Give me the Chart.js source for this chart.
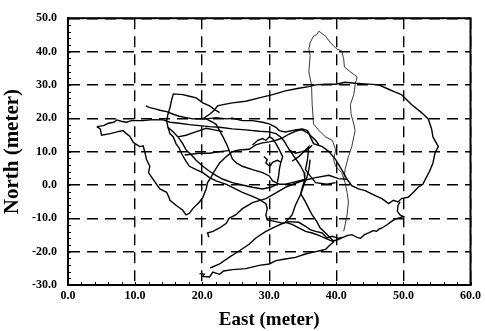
<!DOCTYPE html>
<html>
<head>
<meta charset="utf-8">
<script src="https://cdn.jsdelivr.net/npm/chart.js@4"></script>
<style>
    html, body { margin: 0; padding: 0; background: #fff; }
</style>
</head>
<body>
<canvas id="myChart" width="485" height="331"></canvas>
<script>
// tracks, [east, north] in meters
const westLoop = [
    [4.3, 17.5], [4.8, 16.8], [5.0, 14.9], [6.3, 15.4], [7.3, 15.9], [8.2, 16.3], [8.7, 15.4],
    [9.2, 14.6], [9.7, 12.9], [10.0, 12.4], [10.7, 11.5], [11.2, 11.7], [11.5, 9.5], [11.7, 7.6],
    [12.2, 5.6], [12.0, 3.7], [12.7, 1.7], [13.2, 0.2], [13.7, -1.2], [14.7, -2.2], [15.0, -3.5],
    [15.2, -4.6], [16.1, -6.1], [17.1, -7.6], [17.6, -9.0], [18.1, -8.5], [18.6, -7.1], [19.6, -5.1],
    [20.1, -3.7], [20.6, -1.2], [20.8, 0.7], [21.3, 2.2], [21.8, 4.1], [22.6, 6.6], [23.6, 8.5],
    [24.5, 10.0], [25.5, 10.5], [27.0, 10.7], [28.0, 12.0], [29.0, 12.6], [30.0, 12.9], [31.0, 13.4],
    [32.0, 14.1], [32.9, 15.2], [33.9, 16.1], [34.9, 16.7]
];
const upperWest = [
    [4.3, 17.5], [5.3, 17.8], [6.0, 18.5], [6.8, 18.8], [7.3, 19.5], [7.9, 19.1], [8.7, 18.8],
    [9.5, 19.3], [11.2, 19.3], [12.7, 19.6], [14.2, 19.5], [15.2, 18.8], [16.6, 18.5], [18.1, 18.1],
    [19.6, 17.8], [21.1, 17.5], [22.6, 17.3], [24.5, 16.8], [26.5, 16.5], [28.5, 16.1], [30.0, 15.9],
    [31.0, 15.4], [31.7, 14.4], [32.2, 13.2], [32.7, 11.5], [33.2, 10.0], [33.7, 8.5], [34.2, 7.1],
    [34.7, 5.6], [35.2, 3.7], [35.3, 1.7], [35.0, -0.2], [34.7, -2.7]
];
const arrowTrack = [
    [11.6, 23.7], [12.2, 23.2], [13.0, 22.8], [13.7, 22.4], [14.7, 22.0], [15.7, 21.2], [16.6, 20.6],
    [17.6, 20.2], [18.6, 19.8], [19.6, 19.8], [20.6, 19.8], [22.1, 20.2], [23.6, 19.8], [24.5, 20.0],
    [26.0, 19.3], [27.5, 19.3], [29.0, 18.8], [30.0, 18.3], [31.0, 17.3], [31.5, 16.3], [32.4, 15.9],
    [33.9, 16.5], [34.9, 16.8], [35.7, 16.3], [36.1, 14.9], [36.9, 13.4], [37.4, 12.0]
];
const northLoop = [
    [22.6, 21.7], [21.8, 22.7], [21.1, 23.7], [20.1, 24.6], [19.1, 26.1], [18.1, 26.6], [17.1, 27.1],
    [15.7, 27.3], [15.4, 25.1], [15.2, 23.2], [14.9, 21.2], [14.7, 19.3], [14.9, 17.3], [15.2, 15.4],
    [15.7, 14.4], [16.1, 12.4], [16.6, 11.0], [16.9, 9.5], [17.6, 7.1], [18.1, 5.6], [19.1, 4.6],
    [20.1, 3.7], [21.1, 2.2], [22.1, 1.2], [23.6, 0.2], [24.5, -0.7], [26.0, -2.2], [27.5, -3.4],
    [28.5, -4.3], [29.5, -5.6], [29.7, -7.1], [29.5, -9.0], [29.7, -10.5], [31.0, -11.0], [32.0, -11.5],
    [32.9, -11.0], [34.4, -11.2], [35.4, -12.4], [36.1, -13.4], [36.9, -13.9], [37.9, -14.4],
    [38.6, -15.9], [39.4, -15.4], [40.3, -16.0], [40.8, -15.7]
];
const diagonal = [
    [20.6, 19.8], [21.6, 18.8], [22.1, 18.1], [22.6, 16.3], [23.1, 14.4], [23.6, 12.4], [24.0, 10.5],
    [24.5, 7.8], [25.1, 6.6], [26.0, 5.6], [27.5, 4.6], [29.0, 3.7], [30.0, 2.7], [30.5, 1.2],
    [31.5, 0.2], [32.4, 0.2], [33.4, 0.7], [34.4, 1.2], [35.4, 1.7]
];
const midLine = [
    [17.4, 9.0], [18.6, 9.3], [19.6, 9.5], [21.1, 9.5], [22.6, 10.0], [24.0, 10.3]
];
const centerLine = [
    [14.9, 17.3], [15.7, 15.9], [16.4, 14.4], [17.1, 12.4], [17.6, 10.5], [18.4, 9.0], [19.1, 7.4],
    [20.1, 5.6], [21.1, 4.1], [22.1, 2.8], [23.1, 1.7], [24.5, 0.7], [26.0, 0.0], [27.5, -0.7],
    [29.0, -1.2], [30.2, -0.7], [31.0, 0.0]
];
const northEast = [
    [21.0, -15.7], [20.8, -14.4], [21.6, -13.9], [22.6, -12.9], [23.6, -11.5], [24.0, -10.0],
    [25.0, -9.0], [26.0, -7.1], [27.5, -5.3], [29.5, -4.1], [31.0, -2.4], [32.4, -0.7], [33.9, 0.5],
    [35.4, 1.5], [36.9, 2.2], [38.9, 2.9], [40.3, 1.9], [41.6, 1.7]
];
const southLoop = [
    [19.6, -26.6], [20.3, -26.8], [20.1, -27.4], [21.1, -27.6], [21.6, -26.1], [22.6, -26.8],
    [23.2, -25.8], [24.5, -25.4], [26.5, -25.1], [28.5, -24.1], [30.0, -23.7], [31.0, -22.7],
    [32.4, -22.2], [33.9, -21.7], [35.4, -20.7], [36.4, -20.2], [37.4, -19.8], [38.4, -19.3],
    [38.9, -18.3], [39.6, -17.0], [39.1, -16.6], [38.4, -16.0], [37.4, -15.1], [36.4, -14.4],
    [35.4, -13.9], [34.4, -12.9], [33.4, -11.8], [32.4, -11.2], [31.0, -12.4], [29.5, -13.9],
    [28.0, -15.9], [27.0, -17.8], [25.5, -19.8], [24.0, -21.7], [22.6, -23.7], [21.2, -24.9]
];
const southRise = [
    [32.4, -11.2], [33.4, -9.0], [33.9, -6.1], [34.7, -2.7], [35.2, 0.2], [35.6, 2.2], [35.9, 4.6],
    [36.1, 7.6]
];
const southDrop = [
    [34.7, -2.7], [35.4, -5.1], [35.9, -7.1], [36.4, -9.0], [37.1, -11.0], [37.6, -12.9],
    [38.4, -14.4], [39.1, -15.9], [39.6, -16.8]
];
const southEast = [
    [39.4, -16.8], [40.1, -16.5], [40.8, -15.9], [41.6, -15.2], [42.3, -14.9], [43.1, -15.7],
    [43.6, -16.0], [44.2, -14.9], [44.8, -14.4], [45.5, -13.7], [46.0, -13.9], [46.4, -13.2],
    [46.8, -12.9], [47.5, -12.0], [48.2, -11.0], [48.8, -10.2], [49.5, -9.8], [50.0, -9.5],
    [49.5, -9.0], [49.1, -7.9], [49.2, -6.1], [49.5, -5.1]
];
const bigEllipse = [
    [20.1, 19.8], [21.1, 21.2], [21.8, 22.4], [22.3, 23.7], [23.1, 24.1], [24.5, 24.6], [26.5, 25.1],
    [28.5, 26.1], [30.5, 27.1], [32.4, 28.2], [34.4, 29.0], [35.9, 29.5], [36.9, 30.0], [38.4, 30.2],
    [39.9, 30.2], [41.3, 30.8], [42.8, 30.5], [44.3, 30.3], [46.3, 30.0], [47.8, 28.7], [48.7, 27.9],
    [49.7, 27.1], [51.2, 24.1], [52.7, 21.7], [53.7, 19.8], [54.2, 16.8], [54.4, 14.4], [55.2, 11.5],
    [54.7, 9.5], [54.4, 6.6], [53.9, 4.1], [53.4, 2.2], [52.9, 0.2], [52.2, -0.7], [51.5, -2.2],
    [50.7, -3.7], [49.7, -4.1], [49.2, -5.1], [48.5, -4.6], [47.8, -5.6], [46.8, -4.1], [45.8, -3.2],
    [44.3, -1.7], [43.3, -1.2], [42.3, -0.2], [41.6, 1.7], [40.8, 4.6], [39.9, 7.6], [38.9, 10.0],
    [37.9, 11.5], [36.6, 12.4], [35.9, 15.4], [34.9, 16.5], [33.9, 16.5]
];
const thinNorth = [
    [41.1, 1.7], [41.3, 4.6], [41.8, 8.5], [42.3, 11.5], [42.6, 14.4], [42.8, 16.3], [42.6, 18.3],
    [42.2, 21.2], [42.1, 24.1], [42.6, 27.1], [42.8, 30.0], [43.1, 32.4], [42.1, 33.9], [41.2, 35.4],
    [41.1, 37.8], [40.8, 40.2], [40.1, 40.7], [39.1, 42.7], [38.4, 44.6], [37.6, 45.8], [37.4, 46.1],
    [37.1, 45.1], [36.6, 44.6], [36.1, 42.7], [35.9, 40.7], [36.1, 38.8], [35.9, 33.9], [36.3, 30.0],
    [36.4, 24.1], [36.6, 18.3], [37.4, 16.3], [38.4, 14.4], [39.4, 13.4], [39.9, 10.5], [39.6, 7.6],
    [39.9, 5.6], [40.8, 3.7], [41.3, 0.7], [41.6, -2.2], [41.8, -5.1], [41.6, -9.0], [41.3, -12.0],
    [41.1, -13.9]
];
const squiggleA = [
    [27.5, 12.0], [28.3, 13.4], [29.0, 13.9], [29.5, 13.4], [30.0, 14.4], [30.5, 13.9], [31.0, 12.4],
    [31.5, 10.5], [32.0, 8.5], [31.7, 6.6], [31.5, 4.6], [31.4, 2.7], [31.2, 0.7]
];
const squiggleB = [
    [29.2, 8.5], [29.7, 7.6], [29.5, 6.6], [30.1, 5.6], [30.5, 6.8], [31.2, 7.4], [31.8, 6.8]
];
const meshA = [
    [32.9, 10.5], [33.9, 9.5], [34.9, 10.0], [35.7, 10.5], [36.4, 11.9]
];
const meshB = [
    [33.4, 7.1], [34.4, 8.5], [35.2, 10.0], [35.9, 11.5], [35.7, 7.6], [35.4, 4.6], [36.1, 2.7],
    [36.9, 0.7], [38.6, 0.2], [39.9, 0.7]
];
const crossLine = [
    [16.4, 14.4], [17.6, 14.9], [18.6, 15.6], [19.6, 16.3], [20.6, 17.0], [21.6, 16.6], [23.1, 16.0]
];

const tracks = [westLoop, upperWest, arrowTrack, northLoop, diagonal, midLine, centerLine,
    northEast, southLoop, southRise, southDrop, southEast, bigEllipse, squiggleA, squiggleB,
    meshA, meshB, crossLine];

const datasets = tracks.map(t => ({
    data: t.map(p => ({ x: p[0], y: p[1] })),
    showLine: true,
    borderColor: '#000',
    borderWidth: 1.4,
    pointRadius: 0,
    fill: false
}));
datasets.push({
    data: thinNorth.map(p => ({ x: p[0], y: p[1] })),
    showLine: true,
    borderColor: '#222',
    borderWidth: 0.9,
    pointRadius: 0,
    fill: false
});

const serif = 'Liberation Serif, Times New Roman, serif';

// frame and small inner ticks
const frame = {
    id: 'frame',
    afterDatasetsDraw(chart) {
        const { ctx, chartArea: a, scales } = chart;
        ctx.save();
        ctx.strokeStyle = '#000';
        ctx.lineWidth = 1;
        ctx.beginPath();
        for (let v = -30; v <= 50; v += 2) {
            const py = Math.round(scales.y.getPixelForValue(v)) + 0.5;
            ctx.moveTo(a.left, py);
            ctx.lineTo(a.left + 3, py);
        }
        for (let v = 0; v <= 60; v += 2) {
            const px = Math.round(scales.x.getPixelForValue(v)) + 0.5;
            ctx.moveTo(px, a.bottom);
            ctx.lineTo(px, a.bottom - 3);
        }
        ctx.stroke();
        ctx.lineWidth = 2;
        ctx.strokeRect(a.left, a.top, a.right - a.left, a.bottom - a.top);
        ctx.restore();
    }
};

const config = {
    type: 'scatter',
    data: { datasets: datasets },
    options: {
        responsive: false,
        animation: false,
        layout: { padding: { top: 12, right: 12, left: 0, bottom: 0 } },
        plugins: { legend: { display: false }, tooltip: { enabled: false } },
        scales: {
            x: {
                type: 'linear',
                min: 0,
                max: 60,
                ticks: {
                    stepSize: 10,
                    callback: v => v.toFixed(1),
                    font: { family: serif, weight: 'bold', size: 12 },
                    color: '#000',
                    padding: 4,
                    maxRotation: 0
                },
                grid: { color: '#000', lineWidth: 1.4, drawTicks: false },
                border: { display: true, color: '#000', width: 2, dash: [11, 7] },
                title: {
                    display: true,
                    text: 'East (meter)',
                    font: { family: serif, weight: 'bold', size: 19 },
                    color: '#000',
                    padding: 0
                },
                afterFit: s => { s.height = 46; }
            },
            y: {
                type: 'linear',
                min: -30,
                max: 50,
                ticks: {
                    stepSize: 10,
                    callback: v => v.toFixed(1),
                    font: { family: serif, weight: 'bold', size: 12 },
                    color: '#000',
                    padding: 11
                },
                grid: { color: '#000', lineWidth: 1.4, drawTicks: false },
                border: { display: true, color: '#000', width: 2, dash: [11, 7] },
                title: {
                    display: true,
                    text: 'North (meter)',
                    font: { family: serif, weight: 'bold', size: 21 },
                    color: '#000',
                    padding: 0
                },
                afterFit: s => { s.width = 68; }
            }
        }
    },
    plugins: [frame]
};

const myChart = new Chart(document.getElementById('myChart'), config);
</script>
</body>
</html>
